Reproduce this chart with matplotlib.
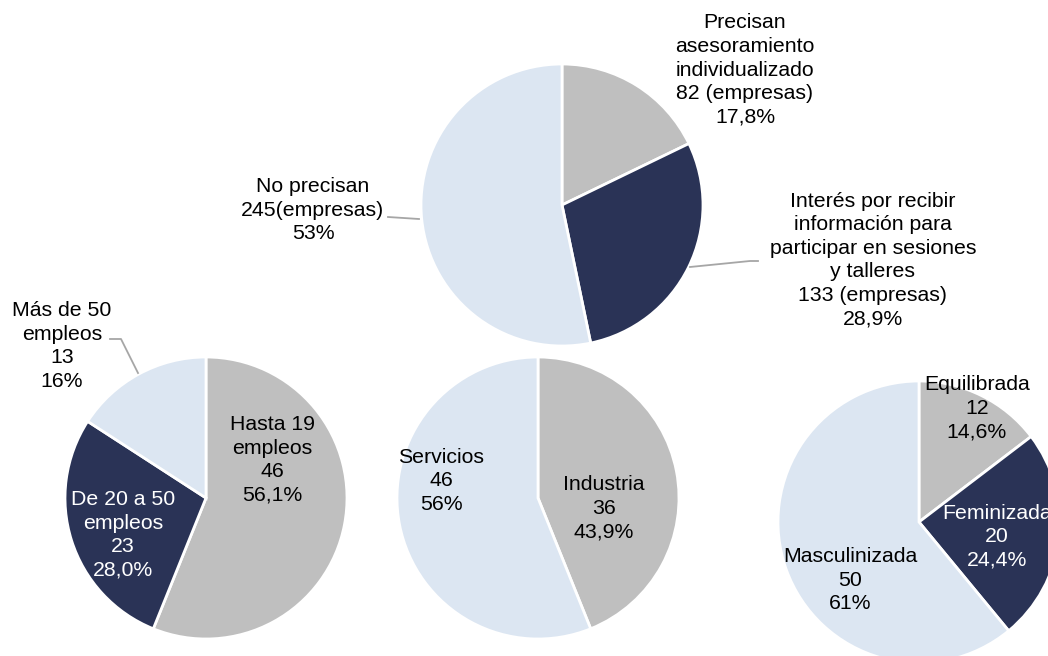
import matplotlib
matplotlib.use("Agg")
import matplotlib.pyplot as plt

plt.rcParams['font.family'] = ['Liberation Sans', 'DejaVu Sans']

# colours used in every pie
GREY = '#BFBFBF'
NAVY = '#2A3356'
LIGHT = '#DCE6F2'

# top pie: asesoramiento
ases_names = ['Precisan\nasesoramiento\nindividualizado', 'Interés por recibir\ninformación para\nparticipar en sesiones\ny talleres', 'No precisan']
ases_values = [82, 133, 245]
ases_text = ['82 (empresas)\n17,8%', '133 (empresas)\n28,9%', '245(empresas)\n53%']

# bottom left: tamaño
size_names = ['Hasta 19\nempleos', 'De 20 a 50\nempleos', 'Más de 50\nempleos']
size_values = [46, 23, 13]
size_pct = ['56,1%', '28,0%', '16%']

# bottom middle: sector
sector_names = ['Industria', 'Servicios']
sector_values = [36, 46]
sector_pct = ['43,9%', '56%']

# bottom right: composición plantilla
comp_names = ['Equilibrada', 'Feminizada', 'Masculinizada']
comp_values = [12, 20, 50]
comp_pct = ['14,6%', '24,4%', '61%']

W, H = 1048, 656
fig = plt.figure(figsize=(W / 100, H / 100), dpi=100)
ax = fig.add_axes([0, 0, 1, 1])

R = 141
wp = dict(edgecolor='white', linewidth=2)
ax.pie(ases_values, colors=[GREY, NAVY, LIGHT], startangle=90, counterclock=False,
       center=(562, H - 205), radius=R, wedgeprops=wp)
ax.pie(size_values, colors=[GREY, NAVY, LIGHT], startangle=90, counterclock=False,
       center=(206, H - 498), radius=R, wedgeprops=wp)
ax.pie(sector_values, colors=[GREY, LIGHT], startangle=90, counterclock=False,
       center=(538, H - 498), radius=R, wedgeprops=wp)
ax.pie(comp_values, colors=[GREY, NAVY, LIGHT], startangle=90, counterclock=False,
       center=(919, H - 522), radius=R, wedgeprops=wp)

ax.set_xlim(0, W)
ax.set_ylim(0, H)
ax.set_aspect('auto')
ax.axis('off')

fs = 15.3
ls = 1.3


def lab(x, y, s, color='black'):
    ax.text(x, H - y, s, ha='center', va='center', fontsize=fs, linespacing=ls,
            color=color, clip_on=False)


lab(745, 70, ases_names[0] + '\n' + ases_text[0])
lab(873, 260, ases_names[1] + '\n' + ases_text[1])
lab(313, 210, ases_names[2] + '\n' + ases_text[2])

lab(272, 460, f'{size_names[0]}\n{size_values[0]}\n{size_pct[0]}')
lab(123, 535, f'{size_names[1]}\n{size_values[1]}\n{size_pct[1]}', color='white')
lab(62, 346, f'{size_names[2]}\n{size_values[2]}\n{size_pct[2]}')

lab(604, 508, f'{sector_names[0]}\n{sector_values[0]}\n{sector_pct[0]}')
lab(441, 481, f'{sector_names[1]}\n{sector_values[1]}\n{sector_pct[1]}')

lab(977, 408, f'{comp_names[0]}\n{comp_values[0]}\n{comp_pct[0]}')
lab(997, 537, f'{comp_names[1]}\n{comp_values[1]}\n{comp_pct[1]}', color='white')
lab(850, 580, f'{comp_names[2]}\n{comp_values[2]}\n{comp_pct[2]}')

# leader lines
lc = '#A6A6A6'
ax.plot([388, 419], [H - 217, H - 219], color=lc, lw=1.3)
ax.plot([690, 750, 758], [H - 267, H - 261, H - 261], color=lc, lw=1.3)
ax.plot([110, 121, 138], [H - 339, H - 339, H - 373], color=lc, lw=1.3)

fig.savefig('out.png', dpi=100)
